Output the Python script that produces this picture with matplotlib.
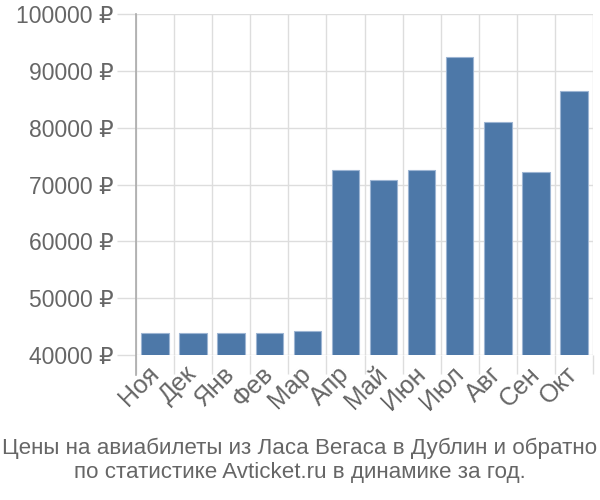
import matplotlib

matplotlib.use("Agg")
import matplotlib.pyplot as plt
import numpy as np

plt.rcParams["font.family"] = ["Liberation Sans", "DejaVu Sans"]

# ---- data ----
months = ["Ноя", "Дек", "Янв", "Фев", "Мар", "Апр", "Май", "Июн", "Июл", "Авг", "Сен", "Окт"]
prices = [43800, 43800, 43800, 43800, 44200, 72600, 70800, 72600, 92500, 81000, 72200, 86400]
yticks = [40000, 50000, 60000, 70000, 80000, 90000, 100000]
title = "Цены на авиабилеты из Ласа Вегаса в Дублин и обратно\nпо статистике Avticket.ru в динамике за год."

BAR = "#4d78a8"
GRID = "#dddddd"
TEXT = "#666666"

fig = plt.figure(figsize=(6, 5), dpi=100)
ax = fig.add_axes([136 / 600, 1 - 355 / 500, (593 - 136) / 600, (355 - 14) / 500])

x = np.arange(len(months))
ax.bar(x, prices, width=0.72, color=BAR, edgecolor="#9db5d3", linewidth=0.8, zorder=3)

ax.set_xlim(-0.5, len(months) - 0.5)
ax.set_ylim(yticks[0], yticks[-1])

ax.set_yticks(yticks)
ax.set_yticklabels([f"{v} ₽" for v in yticks])
ax.set_xticks(x)
ax.set_xticklabels(months, rotation=45, ha="right", va="center", rotation_mode="anchor")
ax.set_xticks(np.arange(len(months) + 1) - 0.5, minor=True)

ax.tick_params(axis="y", length=14, color=GRID, width=1, labelsize=16.5, labelcolor=TEXT, pad=2)
ax.tick_params(axis="x", which="major", length=0, labelsize=18, labelcolor=TEXT, pad=11)
ax.tick_params(axis="x", which="minor", length=14, color=GRID, width=1)

ax.grid(axis="y", color=GRID, linewidth=1, zorder=0)
ax.grid(axis="x", which="minor", color=GRID, linewidth=1, zorder=0)

for s in ["top", "right", "bottom"]:
    ax.spines[s].set_visible(False)
ax.spines["left"].set_color("#aaaaaa")
ax.spines["left"].set_linewidth(1.2)
ax.spines["left"].set_bounds(yticks[0] - 3500, yticks[-1])
ax.spines["left"].set_clip_on(False)

fig.text(0.5, 0.08, title, ha="center", va="center", fontsize=16.1, color=TEXT,
         linespacing=1.2)

fig.savefig("out.png", dpi=100, facecolor="white")
